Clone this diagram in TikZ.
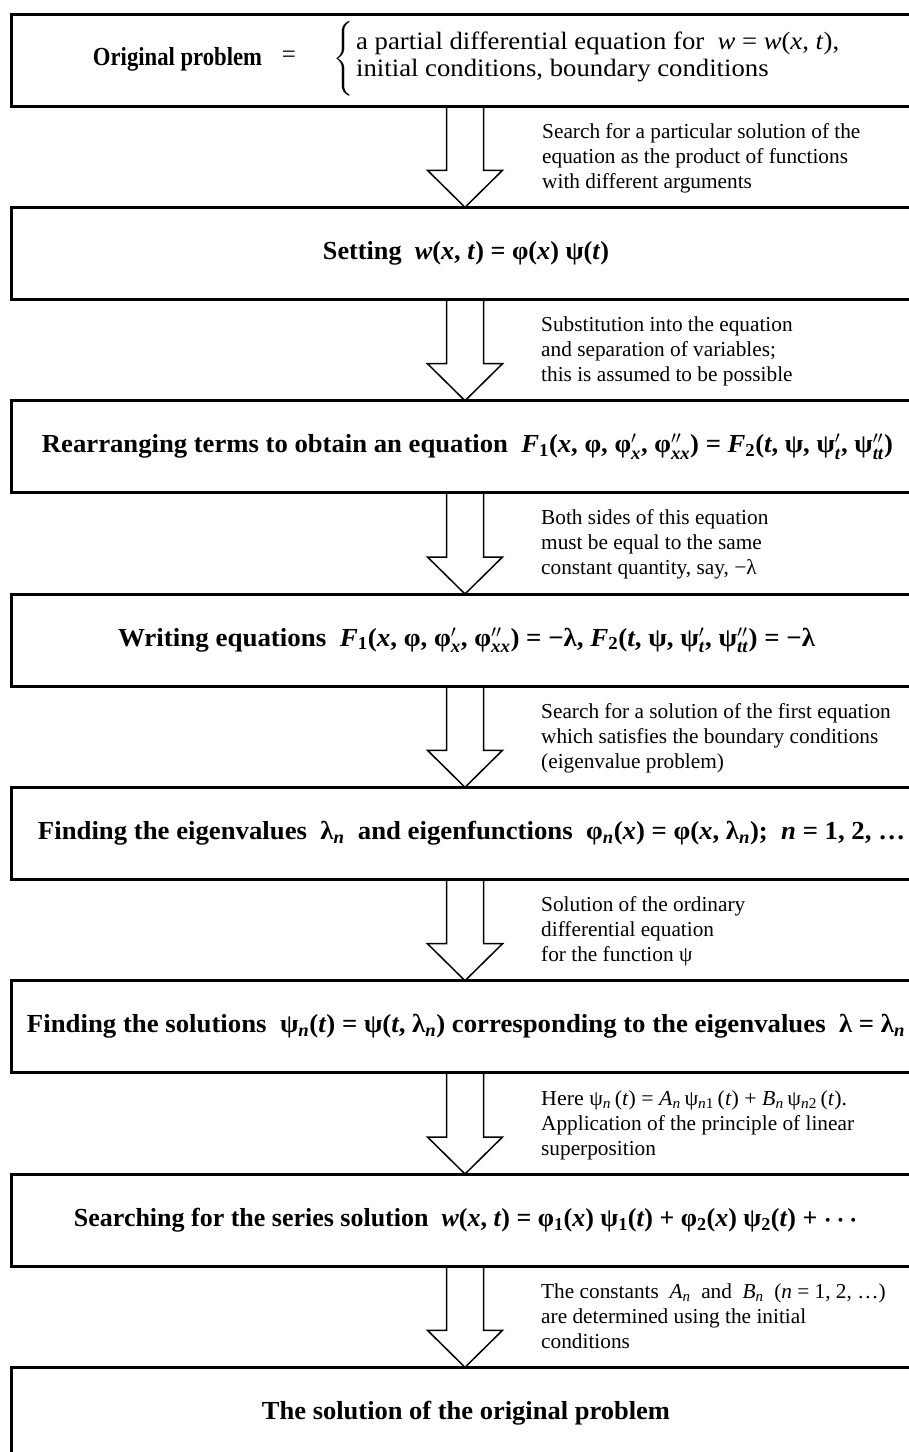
\documentclass[tikz,border=0pt]{standalone}
\usepackage{amsmath}
\usepackage{graphicx}
\usepackage{fontspec}
\setmainfont{Liberation Serif}
\usetikzlibrary{calc}

\newcommand\I[1]{\textit{#1}}
\newcommand\sbs[1]{\ensuremath{_{\text{#1}}}}
\newcommand\prs[3]{#1\ensuremath{^{#2}_{\text{#3}}}}
\newcommand\fit[2]{\resizebox{#1pt}{\height}{#2}}

\tikzset{
  box/.style={draw, line width=3pt, minimum width=908pt, minimum height=92pt, outer sep=0pt, inner sep=0pt},
  btxt/.style={inner sep=0pt, font=\fontsize{26}{30}\selectfont\bfseries},
  rtxt/.style={inner sep=0pt, font=\fontsize{25}{27}\selectfont},
  desc/.style={anchor=west, align=left, inner sep=0pt, font=\fontsize{21.3}{25}\selectfont},
  arr/.style={line width=1.5pt, line join=miter}
}

\begin{document}
\begin{tikzpicture}[x=1pt, y=-1pt]
\fill[white] (0,0) rectangle (909,1452);
\useasboundingbox (0,0) rectangle (909,1452);
\clip (0,0) rectangle (909,1452);

% boxes
\node[box] (b1) at (465,60) {};
\node[box] (b2) at (465,253.3) {};
\node[box] (b3) at (465,446.7) {};
\node[box] (b4) at (465,640) {};
\node[box] (b5) at (465,833.3) {};
\node[box] (b6) at (465,1026.7) {};
\node[box] (b7) at (465,1220) {};
\node[box] (b8) at (465,1413.3) {};

% box 1 contents
\node[btxt] (t1a) at (177.5,59) {\fit{169}{Original problem}};
\node[rtxt] (t1b) at (289,57) {=};
\node[rtxt] (t1c) at (344,59) {$\left\{\vrule height 30pt depth 30pt width 0pt\right.$};
\node[rtxt, anchor=west] (t1d) at (356,58) {\fit{483}{\begin{tabular}{@{}l@{}}a partial differential equation for\ \ \I{w} = \I{w}(\I{x}, \I{t}),\\ initial conditions, boundary conditions\end{tabular}}};

% box texts
\node[btxt] (t2) at (466,253.3) {\fit{286}{Setting\ \ \I{w}(\I{x}, \I{t}) = φ(\I{x}) ψ(\I{t})}};
\node[btxt] (t3) at (467.5,446.7) {\fit{851}{Rearranging terms to obtain an equation\ \ \I{F}\sbs{1}(\I{x}, φ, \prs{φ}{\prime}{\I{x}}, \prs{φ}{\prime\prime}{\I{xx}}) = \I{F}\sbs{2}(\I{t}, ψ, \prs{ψ}{\prime}{\I{t}}, \prs{ψ}{\prime\prime}{\I{tt}})}};
\node[btxt] (t4) at (466.5,640) {\fit{697}{Writing equations\ \ \I{F}\sbs{1}(\I{x}, φ, \prs{φ}{\prime}{\I{x}}, \prs{φ}{\prime\prime}{\I{xx}}) = −λ,\ \I{F}\sbs{2}(\I{t}, ψ, \prs{ψ}{\prime}{\I{t}}, \prs{ψ}{\prime\prime}{\I{tt}}) = −λ}};
\node[btxt] (t5) at (471.5,833.3) {\fit{867}{Finding the eigenvalues\ \ λ\sbs{\I{n}}\ \ and eigenfunctions\ \ φ\sbs{\I{n}}(\I{x}) = φ(\I{x}, λ\sbs{\I{n}});\ \ \I{n} = 1, 2, …}};
\node[btxt] (t6) at (466,1026.7) {\fit{878}{Finding the solutions\ \ ψ\sbs{\I{n}}(\I{t}) = ψ(\I{t}, λ\sbs{\I{n}}) corresponding to the eigenvalues\ \ λ = λ\sbs{\I{n}}}};
\node[btxt] (t7) at (468,1220) {\fit{788}{Searching for the series solution\ \ \I{w}(\I{x}, \I{t}) = φ\sbs{1}(\I{x}) ψ\sbs{1}(\I{t}) + φ\sbs{2}(\I{x}) ψ\sbs{2}(\I{t}) + $\boldsymbol{\cdots}$}};
\node[btxt] (t8) at (466,1413.3) {\fit{408}{The solution of the original problem}};

% arrows
\foreach \a/\b in {b1/b2,b2/b3,b3/b4,b4/b5,b5/b6,b6/b7,b7/b8}
  \draw[arr] ([xshift=-18.5pt]\a.south) -- ([xshift=-18.5pt,yshift=37pt]\b.north)
    -- ([xshift=-37.5pt,yshift=37pt]\b.north) -- (\b.north)
    -- ([xshift=37.5pt,yshift=37pt]\b.north) -- ([xshift=18.5pt,yshift=37pt]\b.north)
    -- ([xshift=18.5pt]\a.south);

% descriptions
\node[desc] (d1) at (542,158) {Search for a particular solution of the\\equation as the product of functions\\with different arguments};
\node[desc] (d2) at (541,351) {Substitution into the equation\\and separation of variables;\\this is assumed to be possible};
\node[desc] (d3) at (541,544.5) {Both sides of this equation\\must be equal to the same\\constant quantity, say, −λ};
\node[desc] (d4) at (541,738) {Search for a solution of the first equation\\which satisfies the boundary conditions\\(eigenvalue problem)};
\node[desc] (d5) at (541,931) {Solution of the ordinary\\differential equation\\for the function ψ};
\node[desc] (d6) at (541,1125) {\fit{306}{Here ψ\sbs{\I{n}}\,(\I{t}) = \I{A}\sbs{\I{n}}\,ψ\sbs{\I{n}1}\,(\I{t}) + \I{B}\sbs{\I{n}}\,ψ\sbs{\I{n}2}\,(\I{t}).}\\Application of the principle of linear\\superposition};
\node[desc] (d7) at (541,1316) {The constants\ \ \I{A}\sbs{\I{n}}\ \ and\ \ \I{B}\sbs{\I{n}}\ \ (\I{n} = 1, 2, …)\\are determined using the initial\\conditions};
\end{tikzpicture}
\end{document}
